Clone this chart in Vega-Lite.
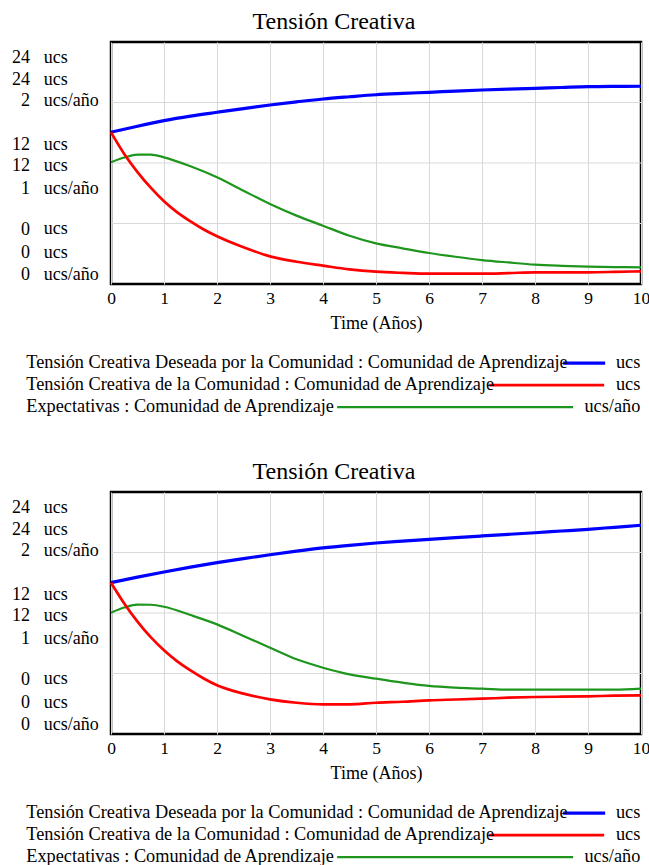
{
"$schema": "https://vega.github.io/schema/vega-lite/v6.json",
"padding": {"left": 6, "top": 8, "right": 0, "bottom": 0},
"config": {
 "font": "Liberation Serif",
 "view": {"stroke": "#000", "strokeWidth": 2.5},
 "axis": {"labelFont": "Liberation Serif", "labelColor": "#000", "labelFontSize": 18, "titleFont": "Liberation Serif", "titleColor": "#000", "titleFontSize": 18, "titleFontWeight": "normal", "ticks": false, "tickSize": 0, "domain": false, "labelOverlap": false},
 "axisX": {"grid": true, "gridColor": "#d9d9d9", "gridWidth": 1, "labelPadding": 5, "titlePadding": 8, "labelFlush": false, "labelAngle": 0, "labelFontSize": 17.5},
 "axisY": {"grid": false, "labelBaseline": "middle"},
 "legend": {"labelFont": "Liberation Serif", "labelColor": "#000", "labelFontSize": 18.3, "labelLimit": 1000, "padding": 0, "rowPadding": 3},
 "title": {"font": "Liberation Serif", "fontSize": 24, "fontWeight": "normal", "color": "#000", "anchor": "middle", "dx": -42, "offset": 8}
},
"datasets": {
 "grid": [{"gy": 6}, {"gy": 12}, {"gy": 18}],
 "p1": [
  {"t":0,"k":"D","v":15.05},{"t":0.5,"k":"D","v":15.65},{"t":1,"k":"D","v":16.2},{"t":1.5,"k":"D","v":16.65},{"t":2,"k":"D","v":17.03},{"t":2.5,"k":"D","v":17.4},{"t":3,"k":"D","v":17.75},{"t":3.5,"k":"D","v":18.06},{"t":4,"k":"D","v":18.35},{"t":4.5,"k":"D","v":18.57},{"t":5,"k":"D","v":18.77},{"t":5.5,"k":"D","v":18.9},{"t":6,"k":"D","v":19.01},{"t":6.5,"k":"D","v":19.13},{"t":7,"k":"D","v":19.24},{"t":7.5,"k":"D","v":19.33},{"t":8,"k":"D","v":19.41},{"t":8.5,"k":"D","v":19.49},{"t":9,"k":"D","v":19.57},{"t":9.5,"k":"D","v":19.6},{"t":10,"k":"D","v":19.61},
  {"t":0,"k":"R","v":15.05},{"t":0.25,"k":"R","v":12.9},{"t":0.5,"k":"R","v":11.1},{"t":0.75,"k":"R","v":9.55},{"t":1,"k":"R","v":8.2},{"t":1.25,"k":"R","v":7.1},{"t":1.5,"k":"R","v":6.2},{"t":1.75,"k":"R","v":5.4},{"t":2,"k":"R","v":4.73},{"t":2.5,"k":"R","v":3.64},{"t":3,"k":"R","v":2.74},{"t":3.5,"k":"R","v":2.21},{"t":4,"k":"R","v":1.82},{"t":4.5,"k":"R","v":1.45},{"t":5,"k":"R","v":1.22},{"t":5.5,"k":"R","v":1.1},{"t":6,"k":"R","v":1.02},{"t":6.5,"k":"R","v":1.02},{"t":7,"k":"R","v":1.02},{"t":7.5,"k":"R","v":1.08},{"t":8,"k":"R","v":1.16},{"t":8.5,"k":"R","v":1.16},{"t":9,"k":"R","v":1.16},{"t":9.5,"k":"R","v":1.2},{"t":10,"k":"R","v":1.26},
  {"t":0,"k":"E","v":1.006},{"t":0.25,"k":"E","v":1.045},{"t":0.5,"k":"E","v":1.07},{"t":0.75,"k":"E","v":1.07},{"t":1,"k":"E","v":1.047},{"t":1.5,"k":"E","v":0.973},{"t":2,"k":"E","v":0.882},{"t":2.5,"k":"E","v":0.771},{"t":3,"k":"E","v":0.661},{"t":3.5,"k":"E","v":0.565},{"t":4,"k":"E","v":0.482},{"t":4.5,"k":"E","v":0.399},{"t":5,"k":"E","v":0.336},{"t":5.5,"k":"E","v":0.295},{"t":6,"k":"E","v":0.256},{"t":6.5,"k":"E","v":0.225},{"t":7,"k":"E","v":0.198},{"t":7.5,"k":"E","v":0.178},{"t":8,"k":"E","v":0.16},{"t":8.5,"k":"E","v":0.15},{"t":9,"k":"E","v":0.143},{"t":9.5,"k":"E","v":0.14},{"t":10,"k":"E","v":0.138}
 ],
 "p2": [
  {"t":0,"k":"D","v":15.01},{"t":0.5,"k":"D","v":15.56},{"t":1,"k":"D","v":16.07},{"t":1.5,"k":"D","v":16.55},{"t":2,"k":"D","v":16.99},{"t":2.5,"k":"D","v":17.4},{"t":3,"k":"D","v":17.78},{"t":3.5,"k":"D","v":18.13},{"t":4,"k":"D","v":18.45},{"t":4.5,"k":"D","v":18.71},{"t":5,"k":"D","v":18.94},{"t":5.5,"k":"D","v":19.13},{"t":6,"k":"D","v":19.31},{"t":6.5,"k":"D","v":19.48},{"t":7,"k":"D","v":19.64},{"t":7.5,"k":"D","v":19.8},{"t":8,"k":"D","v":19.96},{"t":8.5,"k":"D","v":20.13},{"t":9,"k":"D","v":20.3},{"t":9.5,"k":"D","v":20.5},{"t":10,"k":"D","v":20.7},
  {"t":0,"k":"R","v":15.01},{"t":0.25,"k":"R","v":12.95},{"t":0.5,"k":"R","v":11.15},{"t":0.75,"k":"R","v":9.6},{"t":1,"k":"R","v":8.3},{"t":1.25,"k":"R","v":7.2},{"t":1.5,"k":"R","v":6.3},{"t":1.75,"k":"R","v":5.5},{"t":2,"k":"R","v":4.83},{"t":2.5,"k":"R","v":4.0},{"t":3,"k":"R","v":3.44},{"t":3.5,"k":"R","v":3.1},{"t":4,"k":"R","v":2.94},{"t":4.5,"k":"R","v":2.94},{"t":5,"k":"R","v":3.1},{"t":5.5,"k":"R","v":3.2},{"t":6,"k":"R","v":3.34},{"t":6.5,"k":"R","v":3.42},{"t":7,"k":"R","v":3.5},{"t":7.5,"k":"R","v":3.6},{"t":8,"k":"R","v":3.67},{"t":8.5,"k":"R","v":3.7},{"t":9,"k":"R","v":3.74},{"t":9.5,"k":"R","v":3.8},{"t":10,"k":"R","v":3.84},
  {"t":0,"k":"E","v":1.0025},{"t":0.25,"k":"E","v":1.045},{"t":0.5,"k":"E","v":1.07},{"t":0.75,"k":"E","v":1.068},{"t":1,"k":"E","v":1.052},{"t":1.5,"k":"E","v":0.983},{"t":2,"k":"E","v":0.906},{"t":2.5,"k":"E","v":0.81},{"t":3,"k":"E","v":0.713},{"t":3.5,"k":"E","v":0.617},{"t":4,"k":"E","v":0.548},{"t":4.5,"k":"E","v":0.493},{"t":5,"k":"E","v":0.457},{"t":5.5,"k":"E","v":0.424},{"t":6,"k":"E","v":0.397},{"t":6.5,"k":"E","v":0.383},{"t":7,"k":"E","v":0.375},{"t":7.5,"k":"E","v":0.366},{"t":8,"k":"E","v":0.366},{"t":8.5,"k":"E","v":0.366},{"t":9,"k":"E","v":0.366},{"t":9.5,"k":"E","v":0.366},{"t":10,"k":"E","v":0.375}
 ]
},
"spacing": 40,
"resolve": {"scale": {"x": "independent", "y": "independent", "color": "independent", "strokeWidth": "independent", "opacity": "independent"}},
"vconcat": [
 {
  "title": {"text": "Tensión Creativa"},
  "width": 530, "height": 242,
  "resolve": {"scale": {"y": "independent"}},
  "layer": [
   {"data": {"name": "grid"}, "mark": {"type": "rule", "color": "#d9d9d9", "strokeWidth": 1},
    "encoding": {"y": {"field": "gy", "type": "quantitative", "scale": {"domain": [0, 24]}, "axis": null}}},
   {"data": {"name": "p1"}, "transform": [{"filter": "datum.k == 'E'"}],
    "mark": {"type": "line", "interpolate": "monotone"},
    "encoding": {
     "x": {"field": "t", "type": "quantitative", "scale": {"domain": [0, 10], "nice": false}, "axis": {"values": [0,1,2,3,4,5,6,7,8,9,10], "title": "Time (Años)"}},
     "y": {"field": "v", "type": "quantitative", "scale": {"domain": [0, 2], "nice": false}, "axis": {"orient": "left", "title": null, "labelAlign": "left", "labelPadding": 67.7, "values": [1.873, 1.694, 1.515, 1.157, 0.978, 0.791, 0.455, 0.262, 0.077], "labelExpr": "datum.value > 1.6 ? 'ucs' : datum.value > 1.4 ? 'ucs/año' : datum.value > 0.9 ? 'ucs' : datum.value > 0.7 ? 'ucs/año' : datum.value > 0.2 ? 'ucs' : 'ucs/año'"}},
     "color": {"field": "k", "type": "nominal", "scale": {"domain": ["D", "R", "E"], "range": ["#0000ff", "#ff0000", "#1e961e"]},
      "legend": {"orient": "none", "legendX": -103, "legendY": 312, "direction": "vertical", "title": null, "symbolSize": 4, "labelOffset": 0,
       "labelExpr": "datum.value == 'D' ? 'Tensión Creativa Deseada por la Comunidad : Comunidad de Aprendizaje' : datum.value == 'R' ? 'Tensión Creativa de la Comunidad : Comunidad de Aprendizaje' : 'Expectativas : Comunidad de Aprendizaje'",
       "encode": {"symbols": {"update": {"shape": {"signal": "datum.value == 'D' ? 'M546,0H588' : datum.value == 'R' ? 'M472,0H587' : 'M320,0H556'"}}}}}},
     "strokeWidth": {"field": "k", "type": "nominal", "scale": {"domain": ["D", "R", "E"], "range": [3.2, 2.2, 1.1]},
      "legend": {"orient": "none", "legendX": -103, "legendY": 312, "direction": "vertical", "title": null, "symbolSize": 4, "labelOffset": 0,
       "labelExpr": "datum.value == 'D' ? 'Tensión Creativa Deseada por la Comunidad : Comunidad de Aprendizaje' : datum.value == 'R' ? 'Tensión Creativa de la Comunidad : Comunidad de Aprendizaje' : 'Expectativas : Comunidad de Aprendizaje'",
       "encode": {"symbols": {"update": {"shape": {"signal": "datum.value == 'D' ? 'M546,0H588' : datum.value == 'R' ? 'M472,0H587' : 'M320,0H556'"}}}}}},
     "opacity": {"field": "k", "type": "ordinal", "sort": ["D", "R", "E"], "scale": {"range": [1, 1, 1]},
      "legend": {"orient": "none", "legendX": 511, "legendY": 312, "direction": "vertical", "title": null, "symbolSize": 0, "labelOffset": 0, "labelAlign": "right", "labelExpr": "datum.value == 'E' ? 'ucs/año' : 'ucs'",
       "encode": {"labels": {"update": {"align": {"value": "right"}}}}}}
    }},
   {"data": {"name": "p1"}, "transform": [{"filter": "datum.k != 'E'"}],
    "mark": {"type": "line", "interpolate": "monotone"},
    "encoding": {
     "x": {"field": "t", "type": "quantitative", "scale": {"domain": [0, 10], "nice": false}, "axis": {"values": [0,1,2,3,4,5,6,7,8,9,10], "title": "Time (Años)"}},
     "y": {"field": "v", "type": "quantitative", "scale": {"domain": [0, 24], "nice": false}, "axis": {"orient": "left", "title": null, "labelAlign": "right", "labelPadding": 81.5, "values": [22.48, 20.33, 18.18, 13.88, 11.73, 9.49, 5.45, 3.14, 0.92], "labelExpr": "datum.value > 19 ? '24' : datum.value > 17 ? '2' : datum.value > 10 ? '12' : datum.value > 8 ? '1' : '0'"}},
     "color": {"field": "k", "type": "nominal", "scale": {"domain": ["D", "R", "E"], "range": ["#0000ff", "#ff0000", "#1e961e"]}},
     "strokeWidth": {"field": "k", "type": "nominal", "scale": {"domain": ["D", "R", "E"], "range": [3.2, 2.2, 1.1]}},
     "opacity": {"field": "k", "type": "ordinal", "sort": ["D", "R", "E"], "scale": {"range": [1, 1, 1]}}
    }}
  ]
 },
 {
  "title": {"text": "Tensión Creativa"},
  "width": 530, "height": 242,
  "resolve": {"scale": {"y": "independent"}},
  "layer": [
   {"data": {"name": "grid"}, "mark": {"type": "rule", "color": "#d9d9d9", "strokeWidth": 1},
    "encoding": {"y": {"field": "gy", "type": "quantitative", "scale": {"domain": [0, 24]}, "axis": null}}},
   {"data": {"name": "p2"}, "transform": [{"filter": "datum.k == 'E'"}],
    "mark": {"type": "line", "interpolate": "monotone"},
    "encoding": {
     "x": {"field": "t", "type": "quantitative", "scale": {"domain": [0, 10], "nice": false}, "axis": {"values": [0,1,2,3,4,5,6,7,8,9,10], "title": "Time (Años)"}},
     "y": {"field": "v", "type": "quantitative", "scale": {"domain": [0, 2], "nice": false}, "axis": {"orient": "left", "title": null, "labelAlign": "left", "labelPadding": 67.7, "values": [1.873, 1.694, 1.515, 1.157, 0.978, 0.791, 0.455, 0.262, 0.077], "labelExpr": "datum.value > 1.6 ? 'ucs' : datum.value > 1.4 ? 'ucs/año' : datum.value > 0.9 ? 'ucs' : datum.value > 0.7 ? 'ucs/año' : datum.value > 0.2 ? 'ucs' : 'ucs/año'"}},
     "color": {"field": "k", "type": "nominal", "scale": {"domain": ["D", "R", "E"], "range": ["#0000ff", "#ff0000", "#1e961e"]},
      "legend": {"orient": "none", "legendX": -103, "legendY": 312, "direction": "vertical", "title": null, "symbolSize": 4, "labelOffset": 0,
       "labelExpr": "datum.value == 'D' ? 'Tensión Creativa Deseada por la Comunidad : Comunidad de Aprendizaje' : datum.value == 'R' ? 'Tensión Creativa de la Comunidad : Comunidad de Aprendizaje' : 'Expectativas : Comunidad de Aprendizaje'",
       "encode": {"symbols": {"update": {"shape": {"signal": "datum.value == 'D' ? 'M546,0H588' : datum.value == 'R' ? 'M472,0H587' : 'M320,0H556'"}}}}}},
     "strokeWidth": {"field": "k", "type": "nominal", "scale": {"domain": ["D", "R", "E"], "range": [3.2, 2.2, 1.1]},
      "legend": {"orient": "none", "legendX": -103, "legendY": 312, "direction": "vertical", "title": null, "symbolSize": 4, "labelOffset": 0,
       "labelExpr": "datum.value == 'D' ? 'Tensión Creativa Deseada por la Comunidad : Comunidad de Aprendizaje' : datum.value == 'R' ? 'Tensión Creativa de la Comunidad : Comunidad de Aprendizaje' : 'Expectativas : Comunidad de Aprendizaje'",
       "encode": {"symbols": {"update": {"shape": {"signal": "datum.value == 'D' ? 'M546,0H588' : datum.value == 'R' ? 'M472,0H587' : 'M320,0H556'"}}}}}},
     "opacity": {"field": "k", "type": "ordinal", "sort": ["D", "R", "E"], "scale": {"range": [1, 1, 1]},
      "legend": {"orient": "none", "legendX": 511, "legendY": 312, "direction": "vertical", "title": null, "symbolSize": 0, "labelOffset": 0, "labelAlign": "right", "labelExpr": "datum.value == 'E' ? 'ucs/año' : 'ucs'",
       "encode": {"labels": {"update": {"align": {"value": "right"}}}}}}
    }},
   {"data": {"name": "p2"}, "transform": [{"filter": "datum.k != 'E'"}],
    "mark": {"type": "line", "interpolate": "monotone"},
    "encoding": {
     "x": {"field": "t", "type": "quantitative", "scale": {"domain": [0, 10], "nice": false}, "axis": {"values": [0,1,2,3,4,5,6,7,8,9,10], "title": "Time (Años)"}},
     "y": {"field": "v", "type": "quantitative", "scale": {"domain": [0, 24], "nice": false}, "axis": {"orient": "left", "title": null, "labelAlign": "right", "labelPadding": 81.5, "values": [22.48, 20.33, 18.18, 13.88, 11.73, 9.49, 5.45, 3.14, 0.92], "labelExpr": "datum.value > 19 ? '24' : datum.value > 17 ? '2' : datum.value > 10 ? '12' : datum.value > 8 ? '1' : '0'"}},
     "color": {"field": "k", "type": "nominal", "scale": {"domain": ["D", "R", "E"], "range": ["#0000ff", "#ff0000", "#1e961e"]}},
     "strokeWidth": {"field": "k", "type": "nominal", "scale": {"domain": ["D", "R", "E"], "range": [3.2, 2.2, 1.1]}},
     "opacity": {"field": "k", "type": "ordinal", "sort": ["D", "R", "E"], "scale": {"range": [1, 1, 1]}}
    }}
  ]
 }
]
}
